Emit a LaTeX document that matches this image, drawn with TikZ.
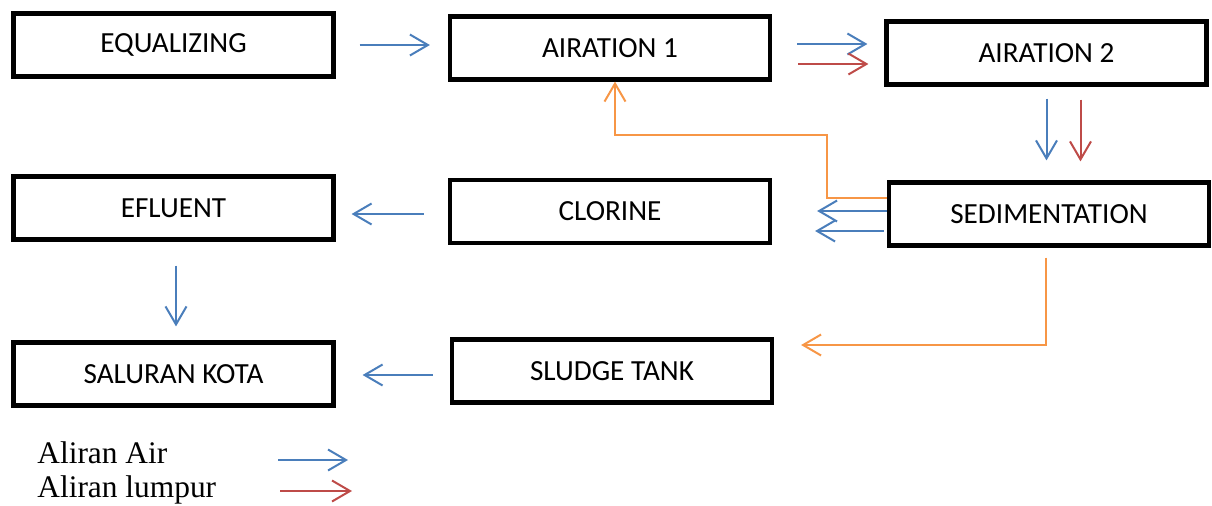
\documentclass[tikz,border=0pt]{standalone}
\usepackage{fontspec}
\setmainfont{Carlito}
\newfontfamily\legendfont{Liberation Serif}
\usetikzlibrary{arrows.meta}
\definecolor{airblue}{RGB}{74,126,187}
\definecolor{mudred}{RGB}{190,75,72}
\definecolor{backorange}{RGB}{247,150,70}

\begin{document}
\begin{tikzpicture}[x=0.5pt,y=-0.5pt,
    box/.style={draw,line width=2.1pt,minimum width=160pt,minimum height=31.5pt,
      inner sep=0pt,font=\fontsize{14.6}{17}\selectfont},
    flow/.style={line width=1pt,-{Straight Barb[length=9pt,width=10.5pt]}},
    air/.style={flow,draw=airblue},
    mud/.style={flow,draw=mudred},
    back/.style={flow,draw=backorange},
    legend/.style={anchor=west,inner sep=0pt,font=\legendfont\fontsize{15.7}{18}\selectfont}]
    \useasboundingbox (0,0) rectangle (1212,505);

    \path (173.5, 45) node [box] (equal)  {EQUALIZING};
    \path (610,   48) node [box] (air1)   {AIRATION 1};
    \path (1046.5,53) node [box] (air2)   {AIRATION 2};
    \path (173.5,208) node [box] (eflu)   {EFLUENT};
    \path (610, 211.5) node [box] (clor)  {CLORINE};
    \path (1049, 214) node [box] (sedim)  {SEDIMENTATION};
    \path (173.5,374) node [box] (kota)   {SALURAN KOTA};
    \path (612,  371) node [box] (sludge) {SLUDGE TANK};

    \draw [air,shorten <=12pt,shorten >=9pt] (equal.east) -- (equal.east -| air1.west);
    \draw [air,shorten <=12.5pt,shorten >=8.5pt]
      ([yshift=2pt]air1.east) -- ([yshift=2pt]air1.east -| air2.west);
    \draw [mud,shorten <=13pt,shorten >=8pt]
      ([yshift=-8pt]air1.east) -- ([yshift=-8pt]air1.east -| air2.west);

    \draw [air,shorten <=6pt,shorten >=10pt] (air2.south) -- (air2.south |- sedim.north);
    \draw [mud,shorten <=6.5pt,shorten >=9.5pt]
      ([xshift=17pt]air2.south) -- ([xshift=17pt]air2.south |- sedim.north);

    \draw [air,shorten >=22.5pt] ([yshift=1.5pt]sedim.west) -- ([yshift=1.5pt]sedim.west -| clor.east);
    \draw [air,shorten <=1.5pt,shorten >=21.5pt]
      ([yshift=-8.5pt]sedim.west) -- ([yshift=-8.5pt]sedim.west -| clor.east);
    \draw [back] ([yshift=8pt]sedim.west) -- ++(-60,0) -- ++(0,-63) -| ([xshift=2.5pt]air1.south);

    \draw [air,shorten <=12pt,shorten >=8pt]
      ([yshift=-1.25pt]clor.west) -- ([yshift=-1.25pt]clor.west -| eflu.east);
    \draw [air,shorten <=12pt,shorten >=7pt]
      ([xshift=1.25pt]eflu.south) -- ([xshift=1.25pt]eflu.south |- kota.north);

    \draw [back,shorten <=5pt,shorten >=13.5pt]
      ([xshift=-1.5pt]sedim.south) |- ([yshift=13pt]sludge.east);
    \draw [air,shorten <=8.5pt,shorten >=13.5pt]
      ([yshift=-2pt]sludge.west) -- ([yshift=-2pt]sludge.west -| kota.east);

    % legend
    \path (37,453) node [legend] (lair) {Aliran Air};
    \path (37,490) node [legend] (lmud) {Aliran lumpur};
    \coordinate (lair1) at (278,460);
    \coordinate (lair2) at (348,460);
    \coordinate (lmud1) at (280,491);
    \coordinate (lmud2) at (352,491);
    \draw [air] (lair1) -- (lair2);
    \draw [mud] (lmud1) -- (lmud2);
\end{tikzpicture}
\end{document}
